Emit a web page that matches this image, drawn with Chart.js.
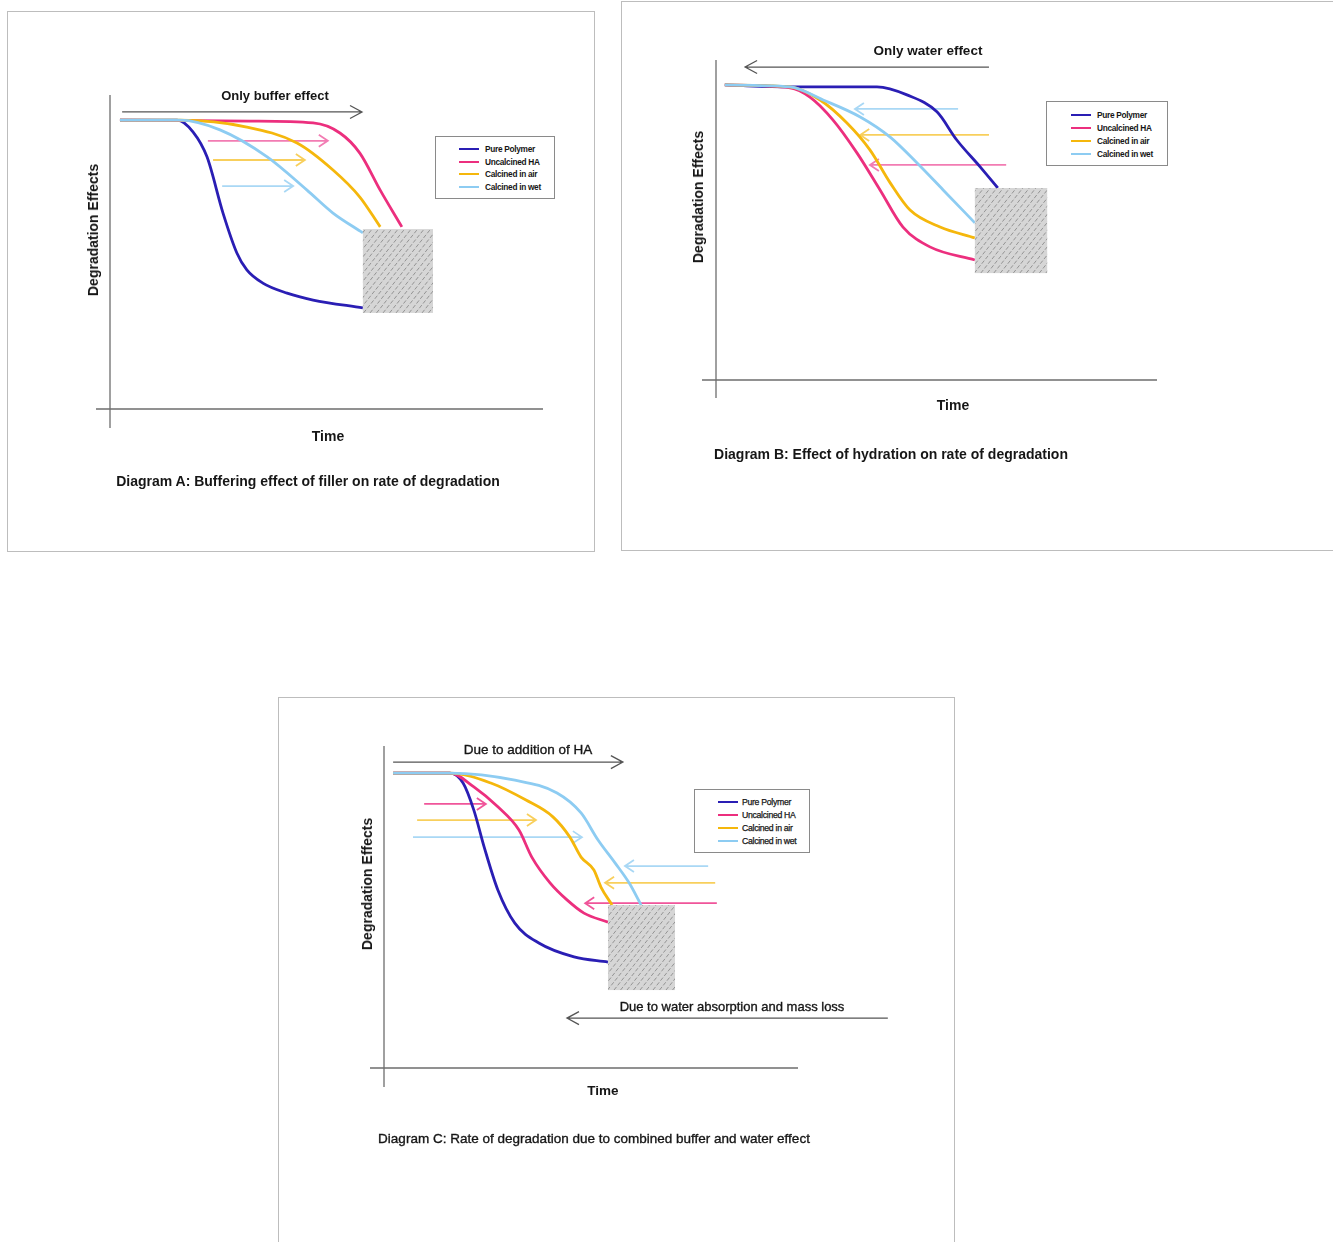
<!DOCTYPE html>
<html>
<head>
<meta charset="utf-8">
<script src="https://cdn.jsdelivr.net/npm/chart.js@4.4.1/dist/chart.umd.min.js"></script>
<style>
  html, body { margin: 0; padding: 0; background: #fff; }
  body { width: 1333px; height: 1242px; position: relative; overflow: hidden;
         font-family: "Liberation Sans", Arial, sans-serif; color: #161616; }
  .panel { position: absolute; border: 1px solid #bdbdbd; box-sizing: border-box; }
  canvas { position: absolute; }
  .lbl { position: absolute; white-space: nowrap; transform: translate(-50%, -50%); line-height: 1; }
  .b { font-weight: bold; }
  .semi { -webkit-text-stroke: 0.35px #161616; }
  .vert { transform: translate(-50%, -50%) rotate(-90deg); }
  .legend { position: absolute; border: 1px solid #8a8a8a; background: #fff; box-sizing: border-box; }
  .legend div { position: absolute; white-space: nowrap; line-height: 1; }
</style>
</head>
<body>

<div class="panel" style="left:7px;top:11px;width:588px;height:541px;"></div>
<div class="panel" style="left:621px;top:1px;width:713px;height:550px;"></div>
<div class="panel" style="left:278px;top:697px;width:677px;height:560px;"></div>

<canvas id="chartA" width="587" height="540" style="left:7px;top:11px;"></canvas>
<canvas id="chartB" width="712" height="549" style="left:621px;top:1px;"></canvas>
<canvas id="chartC" width="676" height="545" style="left:278px;top:697px;"></canvas>

<!-- diagram A text -->
<div class="lbl b" style="left:275px;top:95px;font-size:13px;">Only buffer effect</div>
<div class="lbl b vert" style="left:93px;top:230px;font-size:14px;">Degradation Effects</div>
<div class="lbl b" style="left:328px;top:436px;font-size:14px;">Time</div>
<div class="lbl b" style="left:308px;top:481px;font-size:14px;">Diagram A: Buffering effect of filler on rate of degradation</div>

<!-- diagram B text -->
<div class="lbl b" style="left:928px;top:51px;font-size:13.5px;">Only water effect</div>
<div class="lbl b vert" style="left:698px;top:197px;font-size:14px;">Degradation Effects</div>
<div class="lbl b" style="left:953px;top:405px;font-size:14px;">Time</div>
<div class="lbl b" style="left:891px;top:454px;font-size:14px;">Diagram B: Effect of hydration on rate of degradation</div>

<!-- diagram C text -->
<div class="lbl semi" style="left:528px;top:750px;font-size:13.5px;">Due to addition of HA</div>
<div class="lbl b vert" style="left:367px;top:884px;font-size:14px;">Degradation Effects</div>
<div class="lbl b" style="left:603px;top:1091px;font-size:13.5px;">Time</div>
<div class="lbl semi" style="left:732px;top:1006px;font-size:13px;">Due to water absorption and mass loss</div>
<div class="lbl semi" style="left:594px;top:1139px;font-size:13.5px;">Diagram C: Rate of degradation due to combined buffer and water effect</div>

<script>
// series
const seriesNames = ["Pure Polymer", "Uncalcined HA", "Calcined in air", "Calcined in wet"];

// Diagram A: [time, degradation effect], both on a 0-100 schematic scale
const aPure = [[2.3, 92], [15.5, 92], [19.2, 88.2], [22.4, 80.3], [26.1, 62.4], [29.3, 49.7], [31.6, 44.3],
               [35.3, 40.1], [40.9, 36.9], [46.9, 34.7], [58.4, 32.2]];
const aUncalcined = [[2.3, 92], [32.3, 91.7], [46.9, 91.1], [53.1, 87.9], [57.7, 81.5], [62.4, 69.7], [67.4, 58]];
const aAir = [[2.3, 92], [16.2, 92], [31.6, 89.8], [43.2, 84.7], [51.5, 76.1], [57.7, 67.5], [62.4, 58]];
const aWet = [[2.3, 92], [16.2, 92], [25.4, 88.9], [36.3, 80.3], [45.5, 69.7], [51.5, 62.4], [58.4, 56.1]];
// arrows: [from, to, level]
const aArrows = [[2.8, 58.2, 94.6], [22.6, 50.3, 85.4], [23.8, 45, 79.3], [25.9, 42.3, 71]];
// hatched region: [timeFrom, timeTo, low, high]
const aHatch = [58.4, 74.6, 30.6, 57.3];

// Diagram B
const bPure = [[2, 92.2], [16.8, 91.6], [36.5, 91.6], [43.3, 89.1], [50.1, 83.8], [54.6, 75], [59.9, 66.6], [63.9, 60]];
const bUncalcined = [[2, 92.2], [16.8, 91.3], [21.3, 88.4], [26.5, 81.3], [32, 70.9], [37.2, 59.4], [42.4, 47.8], [48.5, 41.6], [58.7, 37.5]];
const bAir = [[2, 92.2], [16.8, 91.6], [23.6, 87.5], [29.7, 80.3], [34.9, 71.9], [39.5, 61.6], [44, 53.1], [50.8, 47.8], [58.7, 44.4]];
const bWet = [[2, 92.2], [16.8, 91.6], [24.3, 87.5], [32.7, 82.2], [39.5, 75.9], [45.6, 67.8], [51.5, 59.4], [58.7, 49.1]];
const bArrows = [[61.9, 6.6, 97.8], [54.9, 31.5, 84.7], [61.9, 32.7, 76.6], [65.8, 34.9, 67.2]];
const bHatch = [58.7, 75.1, 33.4, 60];

// Diagram C
const cPure = [[2.2, 91.6], [15.9, 91.6], [19.1, 88.5], [21.7, 80.1], [24.2, 68.6], [27.5, 55.3], [31.6, 45], [37.4, 38.8], [45.9, 34.5], [54.1, 32.9]];
const cUncalcined = [[2.2, 91.6], [15.9, 91.6], [21.7, 87.3], [27.5, 81.1], [32.6, 73.9], [35.7, 65.5], [40.1, 57.5], [44.2, 52.2], [48.3, 48.1], [54.1, 45.3]];
const cAir = [[2.2, 91.6], [15.9, 91.6], [25.8, 88.5], [34.3, 83.2], [40.8, 78], [44.9, 71.7], [47.6, 65.5], [50.7, 61.5], [52.4, 56.2], [55.1, 50.6]];
const cWet = [[2.2, 91.6], [15.9, 91.6], [31.6, 89.4], [41.8, 85.4], [47.6, 79.2], [51.7, 70.8], [55.8, 63.7], [59.2, 57.5], [62.1, 50.6]];
const cArrows = [[2.2, 57.7, 95], [9.7, 24.6, 82], [8, 36.7, 77], [7, 47.8, 71.7],
                 [78.3, 58.2, 62.7], [80, 53.4, 57.5], [80.4, 48.6, 51.2], [121.7, 44.2, 15.5]];
const cHatch = [54.1, 70.3, 24.2, 50.6];

// styles
const seriesColors = ["#2a1eb4", "#ec2f7e", "#f5b70c", "#8dccf2"];
const arrowGray = "#555";
const arrowPink = "#f27cb3";
const arrowGold = "#f8cf5c";
const arrowBlue = "#a9d8f5";

const schematic = {
  id: "schematic",
  beforeDatasetsDraw(chart, args, opts) {
    const { ctx, scales: { x, y } } = chart;
    const x0 = x.getPixelForValue(0), y0 = y.getPixelForValue(0);
    ctx.save();
    // axes with the little overhang past the origin
    ctx.strokeStyle = "#6e6e6e";
    ctx.lineWidth = 1.3;
    ctx.beginPath();
    ctx.moveTo(x0, y.getPixelForValue(100));
    ctx.lineTo(x0, y0 + opts.overY);
    ctx.moveTo(x0 - opts.overX, y0);
    ctx.lineTo(x.getPixelForValue(100), y0);
    ctx.stroke();

    // arrows
    opts.arrows.forEach((a, i) => {
      const xa = x.getPixelForValue(a[0]);
      const xb = x.getPixelForValue(a[1]);
      const yy = y.getPixelForValue(a[2]);
      const dir = xb > xa ? 1 : -1;
      const big = opts.arrowColors[i] === arrowGray;
      const hl = big ? 12 : 9, hs = big ? 6.5 : 6;
      ctx.strokeStyle = opts.arrowColors[i];
      ctx.lineWidth = big ? 1.3 : 1.8;
      ctx.beginPath();
      ctx.moveTo(xa, yy);
      ctx.lineTo(xb, yy);
      ctx.moveTo(xb - dir * hl, yy - hs);
      ctx.lineTo(xb, yy);
      ctx.lineTo(xb - dir * hl, yy + hs);
      ctx.stroke();
    });
    ctx.restore();
  },
  afterDatasetsDraw(chart, args, opts) {
    const { ctx, scales: { x, y } } = chart;
    const h = opts.hatch;
    const L = x.getPixelForValue(h[0]), R = x.getPixelForValue(h[1]);
    const T = y.getPixelForValue(h[3]), B = y.getPixelForValue(h[2]);
    ctx.save();
    ctx.fillStyle = "#d6d6d6";
    ctx.fillRect(L, T, R - L, B - T);
    ctx.beginPath();
    ctx.rect(L, T, R - L, B - T);
    ctx.clip();
    ctx.strokeStyle = "#8c8c8c";
    ctx.lineWidth = 0.9;
    ctx.setLineDash([4, 2]);
    ctx.beginPath();
    for (let k = L - (B - T); k < R + 8; k += 6.5) {
      ctx.moveTo(k, B);
      ctx.lineTo(k + (B - T) * 0.8, T);
    }
    ctx.stroke();
    ctx.restore();
  }
};

function makeChart(id, series, arrows, arrowColors, hatch, pad, overX, overY) {
  return new Chart(document.getElementById(id), {
    type: "line",
    data: {
      datasets: series.map((pts, i) => ({
        label: seriesNames[i],
        data: pts.map(p => ({ x: p[0], y: p[1] })),
        borderColor: seriesColors[i],
        borderWidth: 2.8,
        pointRadius: 0,
        fill: false,
        cubicInterpolationMode: "monotone"
      })).reverse()
    },
    options: {
      responsive: false,
      animation: false,
      events: [],
      layout: { padding: pad },
      scales: {
        x: { type: "linear", min: 0, max: 100, display: false },
        y: { type: "linear", min: 0, max: 100, display: false }
      },
      plugins: {
        legend: { display: false },
        tooltip: { enabled: false },
        schematic: { arrows, arrowColors, hatch, overX, overY }
      }
    },
    plugins: [schematic]
  });
}

makeChart("chartA", [aPure, aUncalcined, aAir, aWet], aArrows,
  [arrowGray, arrowPink, arrowGold, arrowBlue], aHatch,
  { left: 103, top: 84, right: 51, bottom: 142 }, 14, 19);

makeChart("chartB", [bPure, bUncalcined, bAir, bWet], bArrows,
  [arrowGray, arrowBlue, arrowGold, arrowPink], bHatch,
  { left: 95, top: 59, right: 176, bottom: 170 }, 14, 18);

makeChart("chartC", [cPure, cUncalcined, cAir, cWet], cArrows,
  [arrowGray, "#f0559a", arrowGold, arrowBlue, arrowBlue, arrowGold, "#f0559a", arrowGray], cHatch,
  { left: 106, top: 49, right: 156, bottom: 174 }, 14, 19);

// legends
function buildLegend(box, bold) {
  const el = document.createElement("div");
  el.className = "legend";
  Object.assign(el.style, { left: box.x + "px", top: box.y + "px", width: box.w + "px", height: box.h + "px" });
  seriesNames.forEach((name, i) => {
    const cy = box.row0 + i * box.gap;
    const ln = document.createElement("div");
    Object.assign(ln.style, { left: box.lx + "px", top: (cy - 1) + "px", width: "20px", height: "2px", background: seriesColors[i] });
    const tx = document.createElement("div");
    tx.textContent = name;
    Object.assign(tx.style, { left: box.tx + "px", top: cy + "px", transform: "translateY(-50%)",
      fontSize: box.fs + "px", fontWeight: bold ? "bold" : "normal", letterSpacing: box.ls + "px" });
    if (!bold) tx.style.webkitTextStroke = "0.25px #161616";
    el.appendChild(ln);
    el.appendChild(tx);
  });
  document.body.appendChild(el);
}

buildLegend({ x: 435, y: 136, w: 120, h: 63, row0: 12, gap: 12.7, lx: 23, tx: 49, fs: 8.3, ls: -0.3 }, true);
buildLegend({ x: 1046, y: 101, w: 122, h: 65, row0: 13, gap: 13, lx: 24, tx: 50, fs: 8.3, ls: -0.3 }, true);
buildLegend({ x: 694, y: 789, w: 116, h: 64, row0: 12, gap: 13, lx: 23, tx: 47, fs: 8.7, ls: -0.3 }, false);
</script>
</body>
</html>
